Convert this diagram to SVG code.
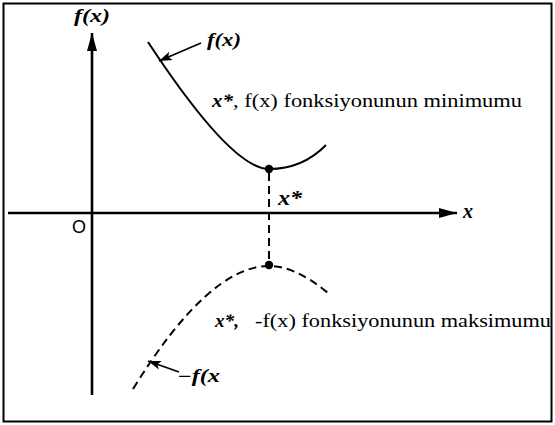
<svg xmlns="http://www.w3.org/2000/svg" width="555" height="425" viewBox="0 0 555 425">
  <style>
    .ax { stroke: #000; stroke-width: 2.6; fill: none; }
    .solid { stroke: #000; stroke-width: 2; fill: none; }
    .dash { stroke: #000; stroke-width: 2; fill: none; stroke-dasharray: 8 5; }
    .ptr { stroke: #000; stroke-width: 1.8; fill: none; }
    .lbl { font-family: "Liberation Serif", "Times New Roman", serif; font-style: italic; font-weight: bold; fill: #000; }
    .txt { font-family: "Liberation Serif", "Times New Roman", serif; fill: #000; }
    .sans { font-family: "Liberation Sans", Arial, sans-serif; fill: #000; }
  </style>
  <defs>
    <marker id="axHead" markerUnits="userSpaceOnUse" markerWidth="20" markerHeight="12" refX="18" refY="6" orient="auto">
      <path d="M0,1 L18,6 L0,11 Z" fill="#000"/>
    </marker>
    <marker id="ptrHead" markerUnits="userSpaceOnUse" markerWidth="14" markerHeight="10" refX="13" refY="5" orient="auto">
      <path d="M0,0.5 L13,5 L0,9.5 L3,5 Z" fill="#000"/>
    </marker>
  </defs>

  <rect x="3.5" y="3.5" width="548" height="418" fill="#fff" stroke="#000" stroke-width="2"/>

  <g id="axes">
    <line class="ax" x1="8" y1="213" x2="457" y2="213" marker-end="url(#axHead)"/>
    <line class="ax" x1="92" y1="395" x2="92" y2="33" marker-end="url(#axHead)"/>
    <text class="sans" x="72" y="233" font-size="18">O</text>
    <text class="lbl" x="74" y="22" font-size="18" textLength="36" lengthAdjust="spacingAndGlyphs">f(x)</text>
    <text class="lbl" x="463" y="218" font-size="20" font-weight="normal">x</text>
  </g>

  <g id="curve-f">
    <path class="solid" d="M148,42 Q231.5,169 269,169 Q302.5,169 326,145"/>
    <circle cx="269" cy="169" r="4.2" fill="#000"/>
    <text class="lbl" x="207" y="46" font-size="18" textLength="34" lengthAdjust="spacingAndGlyphs">f(x)</text>
  </g>

  <g id="curve-negf">
    <path class="dash" d="M133,389 Q209,266 269,266 Q295.5,266 328,293"/>
    <circle cx="269" cy="265" r="4.2" fill="#000"/>
    <text class="lbl" x="177" y="382" font-size="18" textLength="43" lengthAdjust="spacingAndGlyphs">−f(x</text>
  </g>

  <g id="xstar">
    <line class="dash" x1="269" y1="173" x2="269" y2="261"/>
    <text class="txt" x="278" y="205" font-size="20" font-style="italic" font-weight="bold" textLength="24" lengthAdjust="spacingAndGlyphs">x*</text>
  </g>

  <g id="label-min">
    <text class="lbl" x="212" y="107" font-size="18" textLength="21" lengthAdjust="spacingAndGlyphs">x*</text>
    <text class="txt" x="233" y="107" font-size="18" textLength="289" lengthAdjust="spacingAndGlyphs">, f(x) fonksiyonunun minimumu</text>
  </g>

  <g id="label-max">
    <text class="lbl" x="215" y="327" font-size="18" textLength="24" lengthAdjust="spacingAndGlyphs">x*,</text>
    <text class="txt" x="255" y="327" font-size="18" textLength="296" lengthAdjust="spacingAndGlyphs">-f(x) fonksiyonunun maksimumu</text>
  </g>

  <g id="connectors">
    <line class="ptr" x1="201" y1="43" x2="159" y2="61" marker-end="url(#ptrHead)"/>
    <line class="ptr" x1="179" y1="372" x2="148" y2="361" marker-end="url(#ptrHead)"/>
  </g>
</svg>
